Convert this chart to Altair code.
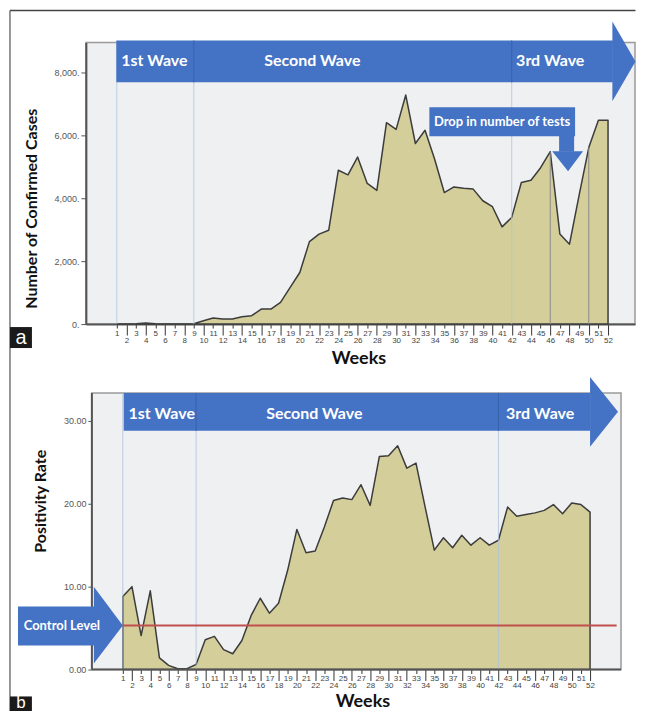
import altair as alt
import pandas as pd

# ---------------- data ----------------
weeks = list(range(1, 53))
cases = [0, 0, 10, 30, 10, 0, 0, 0,
         10, 105, 190, 160, 160, 235, 265, 475, 475, 690, 1165, 1640, 2620, 2860, 2980,
         4890, 4740, 5310, 4470, 4250, 6400, 6190, 7280, 5740, 6160,
         5240, 4180, 4360, 4320, 4290, 3920, 3730, 3090, 3390, 4500,
         4570, 4970, 5480, 2860, 2540, 4100, 5610, 6480, 6480]
positivity = [8.8, 10.0, 4.1, 9.5, 1.4, 0.5, 0.1, 0.1, 0.6, 3.6,
              4.0, 2.4, 1.9, 3.5, 6.5, 8.6, 6.8, 8.0, 12.0, 16.9,
              14.1, 14.3, 17.2, 20.4, 20.7, 20.5, 22.3, 19.8, 25.7, 25.8,
              27.0, 24.3, 24.9, 19.6, 14.4, 15.9, 14.7, 16.2, 15.0, 15.9,
              15.0, 15.6, 19.6, 18.5, 18.7, 18.9, 19.2, 19.9, 18.8, 20.1,
              19.9, 19.0]

wave_names = ["1st Wave", "Second Wave", "3rd Wave"]
top_wave_x = [4.9, 21.3, 46.0]
bottom_wave_x = [5.25, 21.9, 46.55]
wave_dividers = [9, 42]
reference_weeks = [1, 9, 42]
drop_weeks = [46, 50]
control_level = 5.3
top_y_ticks = [0, 2000, 4000, 6000, 8000]
bottom_y_ticks = [0, 10, 20, 30]

TOP_X = [-2.21, 54.80]
TOP_Y = [0, 8950]
BOT_X = [-3.03, 55.38]
BOT_Y = [0, 33.37]

FONT = "Lato"
BLUE = "#4472C4"
BLUE_DARK = "#3862AC"
FILL = "#D4CF9A"
LINE = "#3C3C3C"
BG = "#EFF0F2"
REF = "#AFC3DA"

even = "datum.value % 2 == 0"


def x_axis(title_x, title_y, domain):
    return alt.Axis(
        values=weeks, title="Weeks", grid=False, domain=domain,
        domainColor="#555555", domainWidth=2,
        labelAngle=0, labelFont="Liberation Sans", labelFontSize=8, labelColor="#444444",
        labelOverlap=False, labelFlush=False, labelBound=False,
        tickColor="#333333", tickWidth=1,
        tickSize={"condition": {"test": even, "value": 11}, "value": 4},
        labelPadding={"condition": {"test": even, "value": 1}, "value": 1},
        titleFont=FONT, titleFontSize=18, titleFontWeight="bold", titleColor="#111111",
        titleX=title_x, titleY=title_y, titleBaseline="middle", titleAlign="center",
    )


top_xaxis = x_axis(273, 34, True)
top_yaxis = alt.Axis(
    values=top_y_ticks, labelExpr="format(datum.value, ',') + '.'", grid=False,
    domainColor="#555555", domainWidth=2, tickColor="#555555", tickSize=5,
    labelFont="Liberation Sans", labelFontSize=9, labelColor="#555555", labelPadding=2,
    title="Number of Confirmed Cases", titleFont=FONT, titleFontSize=16,
    titleFontWeight="bold", titleColor="#111111", titleX=-54, titleY=166,
    titleBaseline="middle", titleAlign="center", titleAngle=270,
)
bot_xaxis = x_axis(277, 32, False)
bot_yaxis = alt.Axis(
    values=bottom_y_ticks, format=".2f", grid=False, domain=False, offset=-6,
    tickColor="#555555", tickSize=4,
    labelFont="Liberation Sans", labelFontSize=9, labelColor="#555555", labelPadding=2,
    title="Positivity Rate", titleFont=FONT, titleFontSize=16,
    titleFontWeight="bold", titleColor="#111111", titleX=-51, titleY=108,
    titleBaseline="middle", titleAlign="center", titleAngle=270,
)


def XT(f):
    return alt.X(f, type="quantitative", scale=alt.Scale(domain=TOP_X, nice=False, zero=False), axis=top_xaxis)


def YT(f):
    return alt.Y(f, type="quantitative", scale=alt.Scale(domain=TOP_Y, nice=False, zero=False), axis=top_yaxis)


def XB(f):
    return alt.X(f, type="quantitative", scale=alt.Scale(domain=BOT_X, nice=False, zero=False), axis=bot_xaxis)


def YB(f):
    return alt.Y(f, type="quantitative", scale=alt.Scale(domain=BOT_Y, nice=False, zero=False), axis=bot_yaxis)


# ---------------- top panel ----------------
top_df = pd.DataFrame({"week": weeks, "value": cases})

t_area = alt.Chart(top_df).mark_area(fill=FILL, stroke=LINE, strokeWidth=1.5, strokeJoin="round").encode(
    x=XT("week"), y=YT("value"))
t_ref = alt.Chart(pd.DataFrame({"week": reference_weeks, "y0": [0] * 3, "y1": [TOP_Y[1]] * 3})).mark_rule(
    color=REF, strokeWidth=1, opacity=0.8).encode(x=XT("week"), y=YT("y0"), y2="y1")
t_drop = alt.Chart(pd.DataFrame({"week": drop_weeks, "y0": [0, 0],
                                 "y1": [cases[w - 1] for w in drop_weeks]})).mark_rule(
    color="#8A8A8A", strokeWidth=1).encode(x=XT("week"), y=YT("y0"), y2="y1")

t_body = alt.Chart(pd.DataFrame({"x": [0.95], "x2": [52.5], "y": [7683], "y2": [9016]})).mark_rect(
    color=BLUE).encode(x=XT("x"), x2="x2", y=YT("y"), y2="y2")
t_head = alt.Chart(pd.DataFrame({"x": [52.45, 54.85], "y": [9619, 8349], "y2": [7079, 8349]})).mark_area(
    color=BLUE).encode(x=XT("x"), y=YT("y"), y2="y2")
t_div = alt.Chart(pd.DataFrame({"week": wave_dividers, "y0": [7683] * 2, "y1": [9016] * 2})).mark_rule(
    color=BLUE_DARK, strokeWidth=1).encode(x=XT("week"), y=YT("y0"), y2="y1")
t_wave = alt.Chart(pd.DataFrame({"x": top_wave_x, "y": [8349] * 3, "t": wave_names})).mark_text(
    font=FONT, fontSize=16, fontWeight="bold", color="white", baseline="middle").encode(
    x=XT("x"), y=YT("y"), text="t:N")

c_box = alt.Chart(pd.DataFrame({"x": [33.45], "x2": [48.58], "y": [5968], "y2": [6889]})).mark_rect(
    color=BLUE).encode(x=XT("x"), x2="x2", y=YT("y"), y2="y2")
c_stem = alt.Chart(pd.DataFrame({"x": [46.92], "x2": [48.48], "y": [5480], "y2": [5990]})).mark_rect(
    color=BLUE).encode(x=XT("x"), x2="x2", y=YT("y"), y2="y2")
c_head = alt.Chart(pd.DataFrame({"x": [46.2, 47.85, 49.41], "y": [5492] * 3, "y2": [5492, 4857, 5492]})).mark_area(
    color=BLUE).encode(x=XT("x"), y=YT("y"), y2="y2")
c_text = alt.Chart(pd.DataFrame({"x": [41.0], "y": [6430], "t": ["Drop in number of tests"]})).mark_text(
    font=FONT, fontSize=13, fontWeight="bold", color="white", baseline="middle").encode(
    x=XT("x"), y=YT("y"), text="t:N")

f_left = alt.Chart(pd.DataFrame({"x": [-10.09], "y": [9968], "y2": [-12540]})).mark_rule(
    color="#777777", strokeWidth=1.5).encode(x=XT("x"), y=YT("y"), y2="y2")
f_top = alt.Chart(pd.DataFrame({"x": [-10.09], "x2": [54.85], "y": [9968]})).mark_rule(
    color="#444444", strokeWidth=1.5).encode(x=XT("x"), x2="x2", y=YT("y"))
a_box = alt.Chart(pd.DataFrame({"x": [-10.09], "x2": [-7.81], "y": [-762], "y2": [-95]})).mark_rect(
    color="#1A1A1A").encode(x=XT("x"), x2="x2", y=YT("y"), y2="y2")
a_text = alt.Chart(pd.DataFrame({"x": [-8.95], "y": [-429], "t": ["a"]})).mark_text(
    font="Liberation Sans", fontSize=20, color="white", baseline="middle").encode(
    x=XT("x"), y=YT("y"), text="t:N")

top = alt.layer(t_area, t_ref, t_drop, t_body, t_head, t_div, t_wave,
                c_box, c_stem, c_head, c_text, f_left, f_top, a_box, a_text).properties(
    width=550, height=282,
    view=alt.ViewBackground(fill=BG, stroke="#9A9A9A", strokeWidth=1.5))

# ---------------- bottom panel ----------------
bot_df = pd.DataFrame({"week": weeks, "value": positivity})

b_frame = alt.Chart(pd.DataFrame({"x": [-2.376], "x2": [55.38], "y": [0], "y2": [33.37]})).mark_rect(
    fill=BG, stroke="#9A9A9A", strokeWidth=1.5).encode(x=XB("x"), x2="x2", y=YB("y"), y2="y2")
b_area = alt.Chart(bot_df).mark_area(fill=FILL, stroke=LINE, strokeWidth=1.5, strokeJoin="round").encode(
    x=XB("week"), y=YB("value"))
b_ref = alt.Chart(pd.DataFrame({"week": reference_weeks, "y0": [0] * 3, "y1": [BOT_Y[1]] * 3})).mark_rule(
    color=REF, strokeWidth=1, opacity=0.8).encode(x=XB("week"), y=YB("y0"), y2="y1")
b_yline = alt.Chart(pd.DataFrame({"x": [-2.376], "y": [0], "y2": [33.37]})).mark_rule(
    color="#555555", strokeWidth=2).encode(x=XB("x"), y=YB("y"), y2="y2")
b_xline = alt.Chart(pd.DataFrame({"x": [-2.376], "x2": [55.38], "y": [0]})).mark_rule(
    color="#555555", strokeWidth=2).encode(x=XB("x"), x2="x2", y=YB("y"))
b_ctrl = alt.Chart(pd.DataFrame({"x": [1.0], "x2": [54.9], "y": [control_level]})).mark_rule(
    color="#C0504D", strokeWidth=2).encode(x=XB("x"), x2="x2", y=YB("y"))

b_body = alt.Chart(pd.DataFrame({"x": [1.1], "x2": [52.02], "y": [28.8], "y2": [33.37]})).mark_rect(
    color=BLUE).encode(x=XB("x"), x2="x2", y=YB("y"), y2="y2")
b_head = alt.Chart(pd.DataFrame({"x": [52.0, 55.05], "y": [35.3, 31.1], "y2": [26.87, 31.1]})).mark_area(
    color=BLUE).encode(x=XB("x"), y=YB("y"), y2="y2")
b_div = alt.Chart(pd.DataFrame({"week": wave_dividers, "y0": [28.8] * 2, "y1": [33.37] * 2})).mark_rule(
    color=BLUE_DARK, strokeWidth=1).encode(x=XB("week"), y=YB("y0"), y2="y1")
b_wave = alt.Chart(pd.DataFrame({"x": bottom_wave_x, "y": [30.84] * 3, "t": wave_names})).mark_text(
    font=FONT, fontSize=16, fontWeight="bold", color="white", baseline="middle").encode(
    x=XB("x"), y=YB("y"), text="t:N")

k_body = alt.Chart(pd.DataFrame({"x": [-10.44], "x2": [-2.14], "y": [2.89], "y2": [7.59]})).mark_rect(
    color=BLUE).encode(x=XB("x"), x2="x2", y=YB("y"), y2="y2")
k_head = alt.Chart(pd.DataFrame({"x": [-2.16, 1.0], "y": [10.0, 5.3], "y2": [0.72, 5.3]})).mark_area(
    color=BLUE).encode(x=XB("x"), y=YB("y"), y2="y2")
k_text = alt.Chart(pd.DataFrame({"x": [-5.65], "y": [5.3], "t": ["Control Level"]})).mark_text(
    font=FONT, fontSize=13, fontWeight="bold", color="white", baseline="middle").encode(
    x=XB("x"), y=YB("y"), text="t:N")

b_box = alt.Chart(pd.DataFrame({"x": [-11.31], "x2": [-8.92], "y": [-5.9], "y2": [-3.25]})).mark_rect(
    color="#1A1A1A").encode(x=XB("x"), x2="x2", y=YB("y"), y2="y2")
b_text = alt.Chart(pd.DataFrame({"x": [-10.12], "y": [-4.70], "t": ["b"]})).mark_text(
    font="Liberation Sans", fontSize=17, color="white", baseline="alphabetic").encode(
    x=XB("x"), y=YB("y"), text="t:N")

bottom = alt.layer(b_frame, b_area, b_ref, b_ctrl, b_yline, b_xline, b_body, b_head, b_div, b_wave,
                   k_body, k_head, k_text, b_box, b_text).properties(width=536, height=277)

chart = alt.vconcat(top, bottom, spacing=69, bounds="flush").properties(
    padding=0, background="white").configure_view(stroke=None)

chart.save("out.html", embed_options={"renderer": "svg", "actions": False})
